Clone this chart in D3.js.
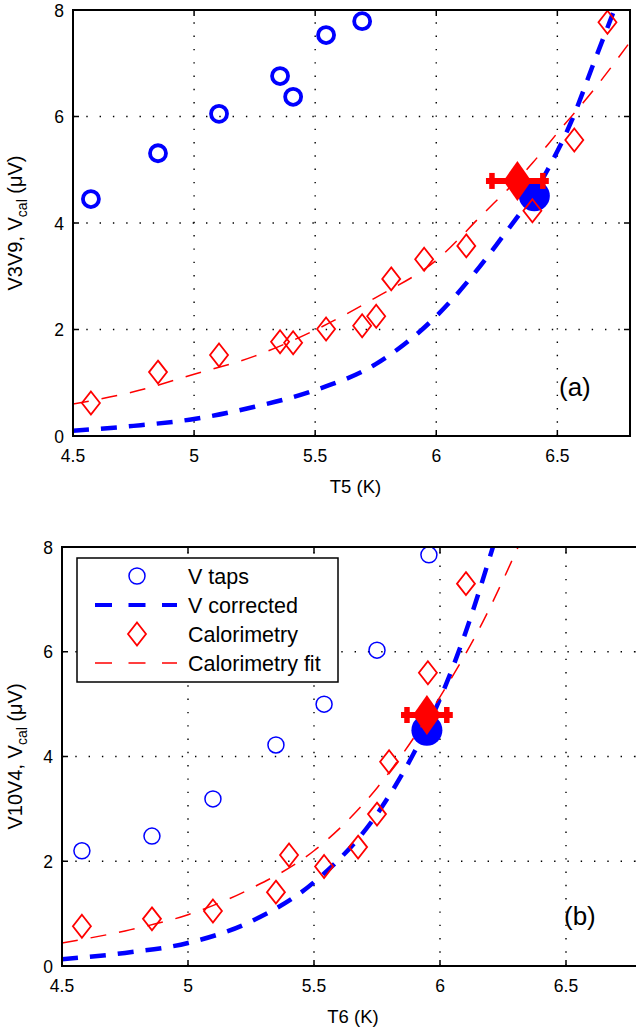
<!DOCTYPE html>
<html><head><meta charset="utf-8">
<script src="https://cdn.jsdelivr.net/npm/d3@7"></script>
<style>
body { margin: 0; background: #fff; }
svg { display: block; font-family: "Liberation Sans", Arial, Helvetica, sans-serif; }
</style>
</head><body><div id="chart"></div>
<script>
// ---- panel (a) ----
const tapsT_a = [4.574, 4.851, 5.103, 5.355, 5.409, 5.545, 5.694];
const tapsV_a = [4.45, 5.31, 6.05, 6.76, 6.37, 7.53, 7.79];
const calT_a = [4.574, 4.851, 5.103, 5.355, 5.409, 5.545, 5.694, 5.752, 5.814, 5.95, 6.124, 6.397, 6.57, 6.707];
const calV_a = [0.62, 1.20, 1.52, 1.77, 1.75, 2.01, 2.07, 2.25, 2.95, 3.32, 3.57, 4.23, 5.56, 7.77];
const corrT_a = [4.5, 4.75, 5.0, 5.25, 5.5, 5.75, 6.0, 6.25, 6.46, 6.56, 6.65, 6.735];
const corrV_a = [0.1, 0.19, 0.32, 0.55, 0.86, 1.35, 2.25, 3.6, 5.0, 5.93, 7.0, 8.0];
const fitT_a = [4.5, 4.75, 5.0, 5.25, 5.5, 5.75, 6.0, 6.18, 6.4, 6.5, 6.65, 6.8];
const fitV_a = [0.6, 0.83, 1.16, 1.5, 1.99, 2.6, 3.3, 4.11, 5.14, 5.69, 6.5, 7.4];
const bigCal_a = [6.335, 4.79, 0.105];   // T, V, T error
const bigTap_a = [6.405, 4.51];

// ---- panel (b) ----
const tapsT_b = [4.579, 4.857, 5.099, 5.349, 5.54, 5.75, 5.956];
const tapsV_b = [2.2, 2.48, 3.19, 4.22, 5.0, 6.03, 7.85];
const calT_b = [4.579, 4.857, 5.099, 5.349, 5.401, 5.54, 5.675, 5.75, 5.798, 5.952, 6.103];
const calV_b = [0.76, 0.90, 1.05, 1.41, 2.12, 1.90, 2.27, 2.90, 3.90, 5.60, 7.30];
const corrT_b = [4.5, 4.75, 5.0, 5.25, 5.5, 5.75, 5.9, 6.0, 6.1, 6.21];
const corrV_b = [0.13, 0.25, 0.44, 0.85, 1.6, 2.9, 4.1, 5.1, 6.35, 8.0];
const fitT_b = [4.5, 4.75, 5.0, 5.25, 5.5, 5.75, 6.0, 6.17, 6.31];
const fitV_b = [0.44, 0.67, 0.98, 1.48, 2.2, 3.4, 5.14, 6.57, 8.0];
const bigCal_b = [5.948, 4.79, 0.079];
const bigTap_b = [5.948, 4.5];

const xTicks = [4.5, 5, 5.5, 6, 6.5];
const yTicks = [0, 2, 4, 6, 8];
const legendLabels = ['V taps', 'V corrected', 'Calorimetry', 'Calorimetry fit'];

const BLUE = '#0000ff', RED = '#ff0000';
const W = 636, H = 1030;

const svg = d3.select('#chart').append('svg')
  .attr('width', W)
  .attr('height', H);

const zip = (a, b) => a.map((d, i) => [d, b[i]]);

function drawPanel(p) {
  const x = d3.scaleLinear().domain([4.5, 6.8]).range([p.left, p.right]);
  const y = d3.scaleLinear().domain([0, 8]).range([p.bottom, p.top]);
  const g = svg.append('g');

  const clipId = 'clip-' + p.tag;
  g.append('clipPath').attr('id', clipId)
    .append('rect')
    .attr('x', p.left).attr('y', p.top)
    .attr('width', p.right - p.left).attr('height', p.bottom - p.top);

  // dotted grid
  const grid = g.append('g')
    .attr('stroke', '#000')
    .attr('stroke-width', 1.4)
    .attr('stroke-dasharray', '1.4,11.9');
  grid.selectAll('line.gx')
    .data(xTicks.slice(1))
    .join('line')
    .attr('x1', d => x(d)).attr('x2', d => x(d))
    .attr('y1', p.bottom).attr('y2', p.top);
  grid.selectAll('line.gy')
    .data(yTicks.slice(1, -1))
    .join('line')
    .attr('x1', p.left).attr('x2', p.right)
    .attr('y1', d => y(d)).attr('y2', d => y(d));

  const plot = g.append('g').attr('clip-path', `url(#${clipId})`);

  // big filled tap point
  plot.append('circle')
    .attr('cx', x(p.bigTap[0])).attr('cy', y(p.bigTap[1]))
    .attr('r', 15.5)
    .attr('fill', BLUE);

  // V taps
  plot.append('g').selectAll('circle')
    .data(zip(p.tapsT, p.tapsV))
    .join('circle')
    .attr('cx', d => x(d[0])).attr('cy', d => y(d[1]))
    .attr('r', p.tapR)
    .attr('fill', 'none')
    .attr('stroke', BLUE)
    .attr('stroke-width', p.tapW);

  const line = d3.line()
    .x(d => x(d[0])).y(d => y(d[1]))
    .curve(d3.curveMonotoneX);

  // V corrected
  plot.append('path')
    .datum(zip(p.corrT, p.corrV))
    .attr('d', line)
    .attr('fill', 'none')
    .attr('stroke', BLUE)
    .attr('stroke-width', 4.5)
    .attr('stroke-dasharray', '16,12');

  // Calorimetry diamonds
  const diamond = (cx, cy, hw, hh) => `M${cx},${cy - hh}L${cx + hw},${cy}L${cx},${cy + hh}L${cx - hw},${cy}Z`;
  plot.append('g').selectAll('path')
    .data(zip(p.calT, p.calV))
    .join('path')
    .attr('d', d => diamond(x(d[0]), y(d[1]), 9, 11.5))
    .attr('fill', 'none')
    .attr('stroke', RED)
    .attr('stroke-width', 1.8);

  // Calorimetry fit
  plot.append('path')
    .datum(zip(p.fitT, p.fitV))
    .attr('d', line)
    .attr('fill', 'none')
    .attr('stroke', RED)
    .attr('stroke-width', 1.5)
    .attr('stroke-dasharray', '16,13');

  // big calorimetry point with horizontal error bar
  const [bt, bv, be] = p.bigCal;
  const by = y(bv);
  plot.append('line')
    .attr('x1', x(bt - be) - 6).attr('x2', x(bt + be) + 6)
    .attr('y1', by).attr('y2', by)
    .attr('stroke', RED).attr('stroke-width', 6);
  [bt - be, bt + be].forEach(t => {
    plot.append('line')
      .attr('x1', x(t)).attr('x2', x(t))
      .attr('y1', by - 8).attr('y2', by + 8)
      .attr('stroke', RED).attr('stroke-width', 5.5);
  });
  plot.append('path')
    .attr('d', diamond(x(bt), by, 14, 20))
    .attr('fill', RED);

  // box + inward ticks
  g.append('rect')
    .attr('x', p.left).attr('y', p.top)
    .attr('width', p.right - p.left).attr('height', p.bottom - p.top)
    .attr('fill', 'none').attr('stroke', '#000').attr('stroke-width', 2);

  const ticks = g.append('g').attr('stroke', '#000').attr('stroke-width', 1.5);
  xTicks.forEach(t => {
    ticks.append('line').attr('x1', x(t)).attr('x2', x(t)).attr('y1', p.bottom).attr('y2', p.bottom - 6);
    ticks.append('line').attr('x1', x(t)).attr('x2', x(t)).attr('y1', p.top).attr('y2', p.top + 6);
  });
  yTicks.forEach(v => {
    ticks.append('line').attr('x1', p.left).attr('x2', p.left + 6).attr('y1', y(v)).attr('y2', y(v));
    ticks.append('line').attr('x1', p.right).attr('x2', p.right - 6).attr('y1', y(v)).attr('y2', y(v));
  });

  // tick labels
  g.append('g').selectAll('text')
    .data(xTicks)
    .join('text')
    .attr('x', d => x(d)).attr('y', p.bottom + 26)
    .attr('text-anchor', 'middle')
    .attr('font-size', 17.5)
    .text(d => d);
  g.append('g').selectAll('text')
    .data(yTicks)
    .join('text')
    .attr('x', p.left - 9).attr('y', d => y(d) + 6.5)
    .attr('text-anchor', 'end')
    .attr('font-size', 17.5)
    .text(d => d);

  // axis labels
  g.append('text')
    .attr('x', (p.left + Math.min(p.right, W)) / 2 + 4)
    .attr('y', p.bottom + 57)
    .attr('text-anchor', 'middle')
    .attr('font-size', 18.5)
    .text(p.xLabel);

  const yl = g.append('text')
    .attr('transform', `translate(22,${(p.top + p.bottom) / 2}) rotate(-90)`)
    .attr('text-anchor', 'middle')
    .attr('font-size', 20);
  yl.append('tspan').text(p.yLabel + ', V');
  yl.append('tspan').attr('font-size', 14).attr('dy', 5).text('cal');
  yl.append('tspan').attr('dy', -5).text(' (\u03bcV)');

  g.append('text')
    .attr('x', p.tagX).attr('y', p.tagY)
    .attr('font-size', 26)
    .text(`(${p.tag})`);

  return { x, y, g };
}

drawPanel({
  tag: 'a', left: 73, right: 630, top: 10, bottom: 436,
  tapsT: tapsT_a, tapsV: tapsV_a, calT: calT_a, calV: calV_a,
  corrT: corrT_a, corrV: corrV_a, fitT: fitT_a, fitV: fitV_a,
  bigCal: bigCal_a, bigTap: bigTap_a,
  tapR: 8, tapW: 3.8,
  xLabel: 'T5 (K)', yLabel: 'V3V9',
  tagX: 559, tagY: 396
});

const pb = drawPanel({
  tag: 'b', left: 62, right: 641.6, top: 547, bottom: 966,
  tapsT: tapsT_b, tapsV: tapsV_b, calT: calT_b, calV: calV_b,
  corrT: corrT_b, corrV: corrV_b, fitT: fitT_b, fitV: fitV_b,
  bigCal: bigCal_b, bigTap: bigTap_b,
  tapR: 8, tapW: 1.5,
  xLabel: 'T6 (K)', yLabel: 'V10V4',
  tagX: 564, tagY: 925
});

// legend (panel b)
const lg = pb.g.append('g');
lg.append('rect')
  .attr('x', 77).attr('y', 558)
  .attr('width', 261).attr('height', 124)
  .attr('fill', '#fff').attr('stroke', '#000').attr('stroke-width', 1.5);
const rowY = [576, 605, 634, 663];
legendLabels.forEach((lab, i) => {
  const ry = rowY[i];
  if (i === 0) {
    lg.append('circle').attr('cx', 137).attr('cy', ry).attr('r', 8)
      .attr('fill', 'none').attr('stroke', BLUE).attr('stroke-width', 1.5);
  } else if (i === 2) {
    lg.append('path').attr('d', `M137,${ry - 11.5}L146,${ry}L137,${ry + 11.5}L128,${ry}Z`)
      .attr('fill', 'none').attr('stroke', RED).attr('stroke-width', 1.8);
  } else {
    lg.append('line').attr('x1', 95).attr('x2', 177).attr('y1', ry).attr('y2', ry)
      .attr('stroke', i === 1 ? BLUE : RED)
      .attr('stroke-width', i === 1 ? 4 : 1.5)
      .attr('stroke-dasharray', '17,16.5');
  }
  lg.append('text')
    .attr('x', 188).attr('y', ry + 7.5)
    .attr('font-size', 21.5)
    .text(lab);
});
</script>
</body></html>
